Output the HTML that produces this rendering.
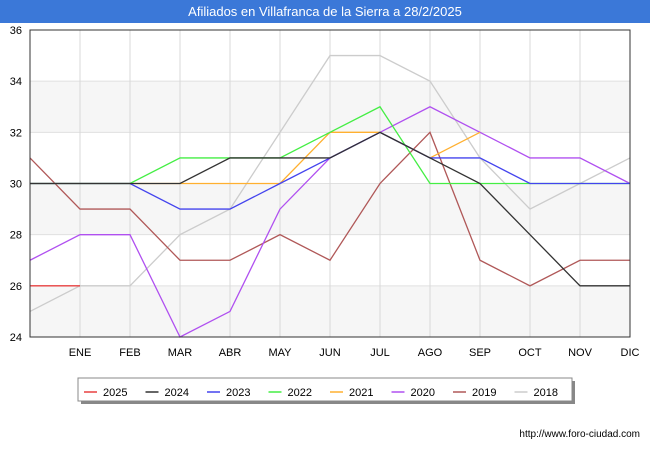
<!DOCTYPE html>
<html><head><meta charset="utf-8"><style>
body{margin:0;background:#fff;font-family:"Liberation Sans",sans-serif}
svg text{font-family:"Liberation Sans",sans-serif}
</style></head><body>
<svg id="c" width="650" height="450" xmlns="http://www.w3.org/2000/svg">
<rect x="0" y="0" width="650" height="450" fill="#fff"/>
<rect x="0" y="0" width="650" height="23" fill="#3b78d8"/>
<text x="325" y="16" text-anchor="middle" fill="#fff" font-size="13">Afiliados en Villafranca de la Sierra a 28/2/2025</text>
<g id="bands"></g><g id="grid"></g><g id="lines"></g><g id="axes"></g>
<g>
<rect x="81" y="381" width="494" height="23" fill="#888"/>
<rect x="78" y="378" width="494" height="23" fill="#fff" stroke="#888"/>
<g id="legend"></g></g>
<text x="640" y="437" text-anchor="end" font-size="10" fill="#000">http://www.foro-ciudad.com</text>
</svg>
<script>
const months=["","ENE","FEB","MAR","ABR","MAY","JUN","JUL","AGO","SEP","OCT","NOV","DIC"];
const yTicks=[24,26,28,30,32,34,36];
const seriesNames=["2025","2024","2023","2022","2021","2020","2019","2018"];
const seriesColors=["#e84040","#333333","#4444ee","#44ee44","#ffb030","#b050f0","#b05858","#cccccc"];
const v2025=[26,26];
const v2024=[30,30,30,30,31,31,31,32,31,30,28,26,26];
const v2023=[30,30,30,29,29,30,31,32,31,31,30,30,30];
const v2022=[30,30,30,31,31,31,32,33,30,30,30,30,30];
const v2021=[30,30,30,30,30,30,32,32,31,32];
const v2020=[27,28,28,24,25,29,31,32,33,32,31,31,30];
const v2019=[31,29,29,27,27,28,27,30,32,27,26,27,27];
const v2018=[25,26,26,28,29,32,35,35,34,31,29,30,31];
const allVals=[v2025,v2024,v2023,v2022,v2021,v2020,v2019,v2018];
const X0=30,X1=630,Y0=337,Y1=30,ymin=24,ymax=36;
const xs=i=>X0+i*(X1-X0)/12;
const ys=v=>Y0-(v-ymin)*(Y0-Y1)/(ymax-ymin);
const NS="http://www.w3.org/2000/svg";
function mk(t,a,p){const e=document.createElementNS(NS,t);for(const k in a)e.setAttribute(k,a[k]);p.appendChild(e);return e;}
const bands=document.getElementById('bands'),grid=document.getElementById('grid'),lines=document.getElementById('lines'),axes=document.getElementById('axes'),legend=document.getElementById('legend');
for(let i=0;i<yTicks.length-1;i++){if(i%2===0){const r=mk('rect',{x:X0,y:ys(yTicks[i+1]),width:X1-X0,height:ys(yTicks[i])-ys(yTicks[i+1]),fill:'#f6f6f6'},bands);

}}
yTicks.forEach(t=>{const l=mk('line',{x1:X0,x2:X1,y1:ys(t),y2:ys(t),stroke:'#e0e0e0'},grid);


const tx=mk('text',{x:X0-8,y:ys(t)+4,'text-anchor':'end','font-size':11},axes);tx.textContent=t;

});
months.forEach((m,i)=>{const l=mk('line',{x1:xs(i),x2:xs(i),y1:Y1,y2:Y0,stroke:'#d8d8d8'},grid);


if(m){const tx=mk('text',{x:xs(i),y:356,'text-anchor':'middle','font-size':11},axes);tx.textContent=m;

}});
const fr=mk('rect',{x:X0,y:Y1,width:X1-X0,height:Y0-Y1,fill:'none',stroke:'#333'},axes);


for(let s=allVals.length-1;s>=0;s--){const p=mk('polyline',{points:allVals[s].map((v,i)=>xs(i)+','+ys(v)).join(' '),fill:'none',stroke:seriesColors[s],'stroke-width':1.3},lines);

}
seriesNames.forEach((n,i)=>{const x=84+i*61.5;const g=mk('g',{},legend);


mk('line',{x1:x,x2:x+13,y1:392,y2:392,stroke:seriesColors[i],'stroke-width':1.5},g);
const t=mk('text',{x:x+19,y:396,'font-size':11},g);t.textContent=n;});
</script>
</body></html>
